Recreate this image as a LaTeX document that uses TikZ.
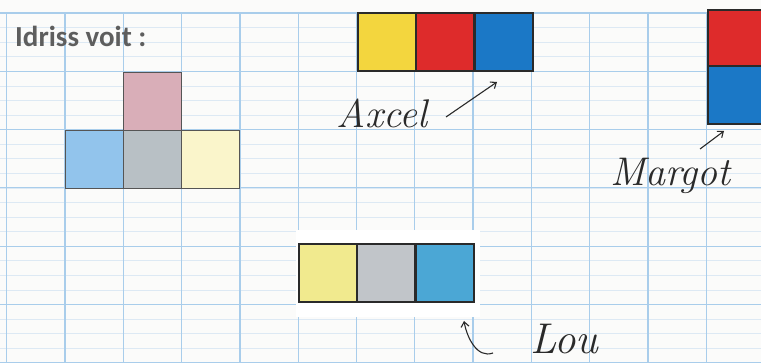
\documentclass[tikz,border=0pt]{standalone}
\usepackage{fontspec}
\newfontfamily\labelfont{Carlito}
\usetikzlibrary{arrows.meta}
\definecolor{paper}{HTML}{FBFBFA}
\definecolor{gridmaj}{HTML}{A9CDEB}
\definecolor{gridmin}{HTML}{DDE9F4}
\definecolor{ipink}{HTML}{D9AEB8}
\definecolor{iblue}{HTML}{92C4EC}
\definecolor{igray}{HTML}{B8C0C5}
\definecolor{iyellow}{HTML}{FAF5CB}
\definecolor{ayellow}{HTML}{F3D63E}
\definecolor{ared}{HTML}{DE2B2B}
\definecolor{ablue}{HTML}{1B78C6}
\definecolor{lyellow}{HTML}{F1EA8E}
\definecolor{lgray}{HTML}{C1C5C9}
\definecolor{lblue}{HTML}{4BA7D5}
\definecolor{ink}{HTML}{2A2A2A}
\definecolor{titlegray}{HTML}{5E5E5E}
\tikzset{
  cell/.style={draw=ink, line width=1.6pt, minimum size=58pt, inner sep=0pt, anchor=north west},
  icell/.style={cell, draw=titlegray!90!black, line width=1.3pt},
  hand/.style={font=\fontsize{40}{40}\selectfont\itshape, text=ink, inner sep=0pt},
  handarrow/.style={draw=ink, line width=1.1pt, -{Straight Barb[length=5pt,width=8pt]}},
}
\begin{document}
\begin{tikzpicture}[x=1pt,y=-1pt]
\useasboundingbox (0,0) rectangle (761,363);
\clip (0,0) rectangle (761,363);
\fill[paper] (0,0) rectangle (761,363);
% minor horizontal lines
\foreach \j in {0,...,24} {
  \draw[gridmin, line width=0.6pt] (0,13+14.575*\j) -- (761,13+14.575*\j);
}
% major horizontal lines
\foreach \k in {0,...,6} {
  \draw[gridmaj, line width=1.2pt] (0,13+58.3*\k) -- (761,13+58.3*\k);
}
% vertical lines
\foreach \k in {0,...,12} {
  \draw[gridmaj, line width=1.3pt] (6.7+58.3*\k,13) -- (6.7+58.3*\k,363);
}
% Idriss
\node[anchor=base west, inner sep=0pt, text=titlegray, font=\labelfont\bfseries\fontsize{29}{29}\selectfont] (title) at (15,47) {Idriss voit :};
\node[icell, fill=ipink] (ip) at (123,72) {};
\node[icell, fill=iblue] (ib) at (65,130) {};
\node[icell, fill=igray] (ig) at (123,130) {};
\node[icell, fill=iyellow] (iy) at (181,130) {};
% Axcel
\node[cell, fill=ayellow] (ay) at (357,12) {};
\node[cell, fill=ared] (ar) at (415,12) {};
\node[cell, fill=ablue] (ab) at (474,12) {};
\node[hand, anchor=base west] (axcel) at (336,128) {Axcel};
\coordinate (axs) at (446,117);
\coordinate (axe) at (497,82);
\draw[handarrow] (axs) -- (axe);
% Margot
\node[cell, fill=ared, minimum width=70pt, minimum height=56pt] (mr) at (707,9) {};
\node[cell, fill=ablue, minimum width=70pt, minimum height=58pt] (mb) at (707,65) {};
\node[hand, anchor=base west] (margot) at (610,186) {Margot};
\coordinate (ms) at (700,149);
\coordinate (me) at (724,131);
\draw[handarrow] (ms) -- (me);
% Lou
\fill[white] (296,230) rectangle (480,317);
\node[cell, fill=lyellow] (ly) at (298,243) {};
\node[cell, fill=lgray] (lg) at (356,243) {};
\node[cell, fill=lblue] (lb) at (415,243) {};
\node[hand, anchor=base west, font=\fontsize{43}{43}\selectfont\itshape] (lou) at (530,354) {Lou};
\coordinate (ls) at (493,353);
\coordinate (le) at (464,321);
\draw[handarrow] (ls) to[out=200, in=-80] (le);
\end{tikzpicture}
\end{document}
